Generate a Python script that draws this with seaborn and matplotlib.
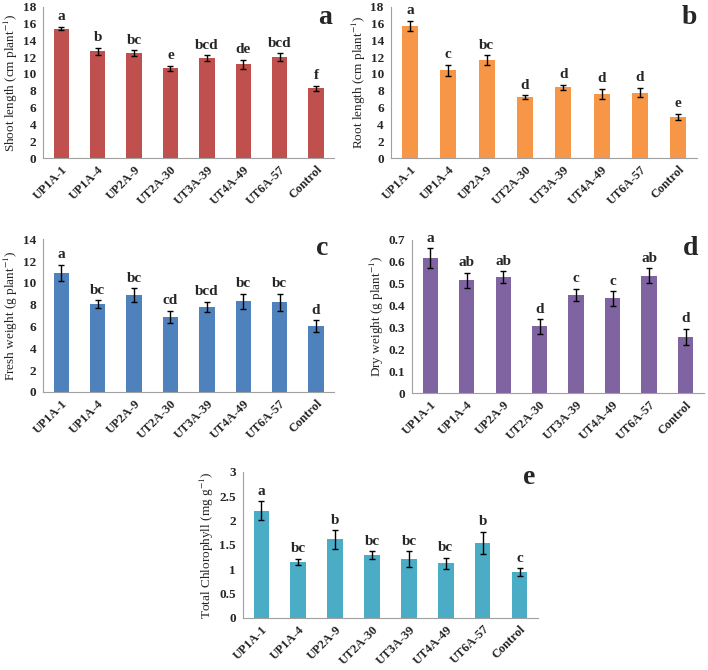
import seaborn as sns
import matplotlib.pyplot as plt
import numpy as np
import pandas as pd

# strains / treatments
strains = ['UP1A-1', 'UP1A-4', 'UP2A-9', 'UT2A-30', 'UT3A-39', 'UT4A-49', 'UT6A-57', 'Control']

# a - shoot length
shoot_mean = [15.4, 12.7, 12.45, 10.7, 11.9, 11.15, 12.0, 8.3]
shoot_err = [0.2, 0.4, 0.35, 0.3, 0.3, 0.55, 0.45, 0.3]
shoot_letters = ['a', 'b', 'bc', 'e', 'bcd', 'de', 'bcd', 'f']

# b - root length
root_mean = [15.75, 10.45, 11.65, 7.25, 8.45, 7.65, 7.8, 4.9]
root_err = [0.6, 0.65, 0.55, 0.25, 0.3, 0.6, 0.55, 0.4]
root_letters = ['a', 'c', 'bc', 'd', 'd', 'd', 'd', 'e']

# c - fresh weight
fresh_mean = [10.9, 8.05, 8.85, 6.9, 7.8, 8.3, 8.2, 6.0]
fresh_err = [0.75, 0.35, 0.65, 0.55, 0.45, 0.7, 0.8, 0.55]
fresh_letters = ['a', 'bc', 'bc', 'cd', 'bcd', 'bc', 'bc', 'd']

# d - dry weight
dry_mean = [0.617, 0.515, 0.53, 0.305, 0.448, 0.433, 0.537, 0.258]
dry_err = [0.045, 0.035, 0.027, 0.033, 0.028, 0.033, 0.033, 0.037]
dry_letters = ['a', 'ab', 'ab', 'd', 'c', 'c', 'ab', 'd']

# e - total chlorophyll
chl_mean = [2.2, 1.15, 1.61, 1.29, 1.21, 1.12, 1.54, 0.94]
chl_err = [0.19, 0.06, 0.19, 0.08, 0.16, 0.11, 0.23, 0.08]
chl_letters = ['a', 'bc', 'b', 'bc', 'bc', 'bc', 'b', 'c']

sns.set_style('white')
plt.rcParams['font.family'] = ['Liberation Serif', 'DejaVu Serif']
plt.rcParams['mathtext.fontset'] = 'stix'


def panel(fig, rect, mean, err, letters, color, ylabel, ymax, ystep, tag, tagpos):
    ax = fig.add_axes(rect)
    df = pd.DataFrame({'strain': strains, 'value': mean})
    sns.barplot(data=df, x='strain', y='value', color=color, width=0.42,
                saturation=1, errorbar=None, ax=ax, edgecolor='none')
    x = np.arange(len(strains))
    ax.errorbar(x, mean, yerr=err, fmt='none', ecolor='black', elinewidth=1,
                capsize=2.5, capthick=1)
    for xi, m, e, t in zip(x, mean, err, letters):
        ax.annotate(t, (xi, m + e), xytext=(0, 2.5), textcoords='offset points',
                    ha='center', va='bottom', fontsize=11, fontweight='bold')
    ax.set_xlim(-0.5, len(strains) - 0.5)
    ax.set_ylim(0, ymax)
    ax.set_yticks(np.arange(0, ymax + ystep / 2, ystep))
    ax.yaxis.set_major_formatter(plt.FuncFormatter(lambda v, p: f'{v:g}'))
    ax.set_xticks(np.arange(-0.5, len(strains), 1), minor=True)
    ax.tick_params(axis='x', which='major', length=0, pad=4)
    ax.tick_params(axis='x', which='minor', length=3, color='#a0a0a0', width=0.8)
    ax.tick_params(axis='y', length=3, color='#a0a0a0', width=0.8, pad=2)
    for lab in ax.get_xticklabels():
        lab.set_rotation(45)
        lab.set_ha('right')
        lab.set_rotation_mode('anchor')
        lab.set_fontweight('bold')
        lab.set_fontsize(9)
    for lab in ax.get_yticklabels():
        lab.set_fontweight('bold')
        lab.set_fontsize(9.5)
    ax.set_xlabel('')
    ax.set_ylabel(ylabel, fontsize=9.5, labelpad=2)
    sns.despine(ax=ax)
    for s in ('left', 'bottom'):
        ax.spines[s].set_color('#a0a0a0')
        ax.spines[s].set_linewidth(0.8)
    fig.text(tagpos[0], tagpos[1], tag, fontsize=20, fontweight='bold',
             ha='center', va='center')
    return ax


fig = plt.figure(figsize=(7.08, 6.70), dpi=100)

panel(fig, [0.061, 0.764, 0.411, 0.226], shoot_mean, shoot_err, shoot_letters,
      '#C0504D', 'Shoot length (cm plant$^{-1}$)', 18, 2, 'a', (325 / 708, 1 - 17 / 670))
panel(fig, [0.552, 0.764, 0.433, 0.226], root_mean, root_err, root_letters,
      '#F79646', 'Root length (cm plant$^{-1}$)', 18, 2, 'b', (689 / 708, 1 - 17 / 670))
panel(fig, [0.061, 0.415, 0.411, 0.228], fresh_mean, fresh_err, fresh_letters,
      '#4F81BD', 'Fresh weight (g plant$^{-1}$)', 14, 2, 'c', (322 / 708, 1 - 248 / 670))
panel(fig, [0.582, 0.413, 0.412, 0.229], dry_mean, dry_err, dry_letters,
      '#8064A2', 'Dry weight (g plant$^{-1}$)', 0.7, 0.1, 'd', (691 / 708, 1 - 248 / 670))
panel(fig, [0.343, 0.078, 0.417, 0.218], chl_mean, chl_err, chl_letters,
      '#4BACC6', 'Total Chlorophyll (mg g$^{-1}$)', 3, 0.5, 'e', (529 / 708, 1 - 477 / 670))

fig.savefig('out.png', dpi=100)
